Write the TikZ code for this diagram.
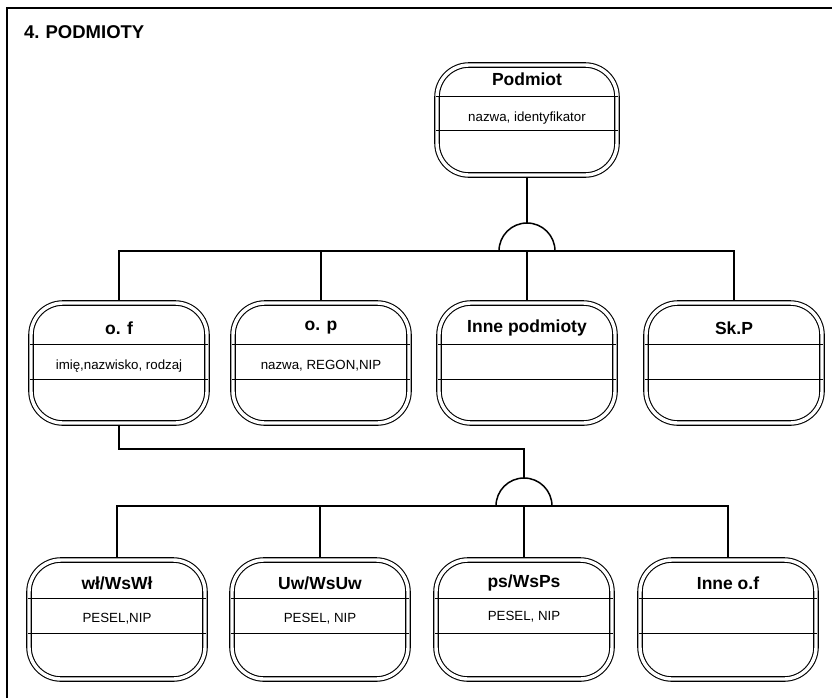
\documentclass[tikz,border=0pt]{standalone}
\usepackage{fontspec}
\setmainfont{Liberation Sans}
\usetikzlibrary{calc}
\tikzset{
  x=1pt, y=1pt,
  entbox/.style={draw, line width=1.1pt, double=white, double distance=3.4pt,
    rounded corners=32pt, inner sep=0pt, outer sep=2.8pt},
  podbox/.style={entbox, minimum width=180pt, minimum height=110pt},
  l1box/.style={entbox, minimum width=176pt, minimum height=120pt},
  l2box/.style={entbox, minimum width=176pt, minimum height=119pt},
  ttl/.style={font=\fontsize{17.5}{20}\selectfont\bfseries, inner sep=0pt},
  attr/.style={font=\fontsize{13.3}{15}\selectfont, inner sep=0pt},
  divline/.style={line width=1.1pt},
  conn/.style={line width=1.5pt},
}
\newcommand\mydivs[3]{%
  \draw[divline] ($(#1.north west)+(2.2,-#2)$) -- ($(#1.north east)+(-2.2,-#2)$);
  \draw[divline] ($(#1.north west)+(2.2,-#3)$) -- ($(#1.north east)+(-2.2,-#3)$);
}
\begin{document}
\begin{tikzpicture}
\useasboundingbox (0,0) rectangle (832,-697);
\fill[white] (0,0) rectangle (832,-697);
% frame
\draw[line width=1.8pt] (7,-710) -- (7,-8) -- (850,-8);
\node[anchor=west, font=\fontsize{18.5}{21}\selectfont\bfseries, inner sep=0pt] (hdr) at (24,-32) {4.\hspace{6pt}PODMIOTY};

% top entity
\node[podbox] (pod) at (527,-120) {};
\mydivs{pod}{34}{68}
\node[ttl] (podt) at (527,-79) {Podmiot};
\node[attr] (poda) at (527,-118) {nazwa, identyfikator};

% level 1
\node[l1box] (of) at (119,-363) {};
\node[l1box] (op) at (321,-363) {};
\node[l1box] (ip) at (527,-363) {};
\node[l1box] (skp) at (734,-363) {};
\foreach \n in {of,op,ip,skp}{\mydivs{\n}{44}{79}}
\node[ttl] (oft) at (119,-328) {o. f};
\node[ttl] (opt) at (321,-328) {o. p};
\node[ttl] (ipt) at (527,-328) {Inne podmioty};
\node[ttl] (skpt) at (734,-328) {Sk.P};
\node[attr] (ofa) at (119,-366) {imię,nazwisko, rodzaj};
\node[attr] (opa) at (321,-366) {nazwa, REGON,NIP};

% level 2
\node[l2box] (wl) at (117,-619.5) {};
\node[l2box] (uw) at (320,-619.5) {};
\node[l2box] (ps) at (524,-619.5) {};
\node[l2box] (inof) at (728,-619.5) {};
\foreach \n in {wl,uw,ps,inof}{\mydivs{\n}{41}{76}}
\node[ttl] (wlt) at (117,-583) {wł/WsWł};
\node[ttl] (uwt) at (320,-583) {Uw/WsUw};
\node[ttl] (pst) at (524,-583) {ps/WsPs};
\node[ttl] (inoft) at (728,-583) {Inne o.f};
\node[attr] (wla) at (117,-619) {PESEL,NIP};
\node[attr] (uwa) at (320,-619) {PESEL, NIP};
\node[attr] (psa) at (524,-617) {PESEL, NIP};

% connectors level 1
\coordinate (j1t) at (527,-223);
\coordinate (bus1) at (527,-251);
\draw[conn] (pod.south) -- (j1t);
\draw[conn] (499,-251) arc (180:0:28);
\draw[conn] (of.north) |- (bus1) -| (skp.north);
\draw[conn] (op.north) -- (op.north |- bus1);
\draw[conn] (bus1) -- (ip.north);

% connectors level 2
\coordinate (k2) at (524,-449);
\coordinate (j2t) at (524,-478);
\coordinate (bus2) at (524,-506);
\draw[conn] (of.south) |- (k2) -- (j2t);
\draw[conn] (496,-506) arc (180:0:28);
\draw[conn] (wl.north) |- (bus2) -| (inof.north);
\draw[conn] (uw.north) -- (uw.north |- bus2);
\draw[conn] (bus2) -- (ps.north);
\end{tikzpicture}
\end{document}
